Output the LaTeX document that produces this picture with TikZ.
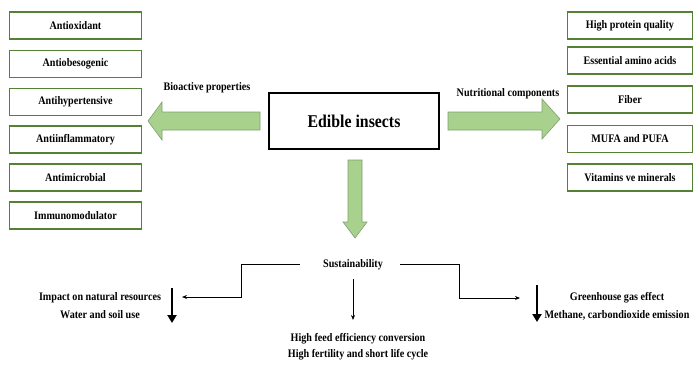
\documentclass[tikz,border=0pt]{standalone}
\usepackage{fontspec}
\setmainfont{Liberation Serif}[FakeStretch=0.88]
\usetikzlibrary{arrows.meta}
\definecolor{boxgreen}{HTML}{548235}
\definecolor{arrfill}{HTML}{A9D18E}
\definecolor{arredge}{HTML}{7F9F6F}
\tikzset{
  gbox/.style={draw=boxgreen, line width=1.4pt, minimum height=27pt, inner sep=0pt, font=\bfseries\fontsize{11.5}{12}\selectfont},
  lbox/.style={gbox, minimum width=132pt},
  rbox/.style={gbox, minimum width=125pt},
  blockarrow/.style={fill=arrfill, draw=arredge, line width=0.6pt},
  lbl/.style={font=\bfseries\fontsize{11.5}{12}\selectfont, inner sep=1pt},
  txt/.style={font=\bfseries\fontsize{11.5}{18}\selectfont, align=center, inner sep=1pt},
  thin/.style={line width=0.8pt, -{Stealth[length=5pt,width=4pt]}},
  fatdown/.style={line width=2.6pt, -{Triangle[length=8pt,width=9pt]}}
}
\begin{document}
\begin{tikzpicture}[x=1pt,y=1pt]
\useasboundingbox (0,0) rectangle (695,-364);
% left boxes
\node[lbox] (l1) at (75.5,-25.5) {Antioxidant};
\node[lbox] (l2) at (75.5,-64) {Antiobesogenic};
\node[lbox] (l3) at (75.5,-102) {Antihypertensive};
\node[lbox] (l4) at (75.5,-139.5) {Antiinflammatory};
\node[lbox] (l5) at (75.5,-177.5) {Antimicrobial};
\node[lbox] (l6) at (75.5,-215.5) {Immunomodulator};
% right boxes
\node[rbox] (r1) at (630,-25.5) {High protein quality};
\node[rbox] (r2) at (630,-60.5) {Essential amino acids};
\node[rbox] (r3) at (630,-99.5) {Fiber};
\node[rbox] (r4) at (630,-139) {MUFA and PUFA};
\node[rbox] (r5) at (630,-177.5) {Vitamins ve minerals};
% center
\node[draw=black, line width=2.6pt, minimum width=170pt, minimum height=56pt, font=\bfseries\fontsize{18}{20}\selectfont] (ei) at (354,-121) {Edible insects};
% block arrows
\draw[blockarrow] (260,-112) -- (162,-112) -- (162,-102) -- (148,-121) -- (162,-140) -- (162,-130) -- (260,-130) -- cycle;
\draw[blockarrow] (448,-112) -- (542,-112) -- (542,-99) -- (560,-119) -- (542,-139) -- (542,-130) -- (448,-130) -- cycle;
\draw[blockarrow] (348,-160) -- (362,-160) -- (362,-222) -- (367,-222) -- (355,-238) -- (343,-222) -- (348,-222) -- cycle;
\node[lbl] (bio) at (207,-88) {Bioactive properties};
\node[lbl] (nut) at (508,-94) {Nutritional components};
% sustainability
\node[lbl] (sus) at (353,-265) {Sustainability};
\node[txt] (imp) at (100,-306) {Impact on natural resources\\Water and soil use};
\node[txt, font=\bfseries\fontsize{11.5}{16}\selectfont] (feed) at (358,-346.5) {High feed efficiency conversion\\High fertility and short life cycle};
\node[txt] (gh) at (617,-306) {Greenhouse gas effect\\Methane, carbondioxide emission};
\coordinate (impin) at (182,-297);
\coordinate (ghin) at (520,-298);
\draw[thin] (300,-264) -- (241,-264) |- (impin);
\draw[thin] (353,-279) -- (353,-320);
\draw[thin] (400,-264) -- (459,-264) |- (ghin);
\draw[fatdown] (172,-288) -- (172,-323);
\draw[fatdown] (537,-285) -- (537,-322);
\end{tikzpicture}
\end{document}
